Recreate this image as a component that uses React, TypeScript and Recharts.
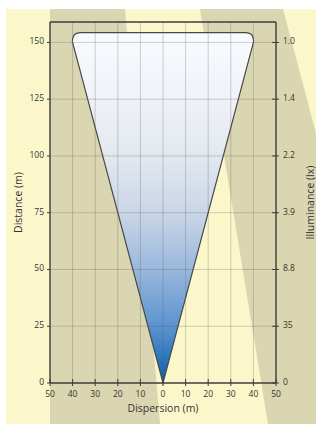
import React from "react";
import { ComposedChart, Area, XAxis, YAxis, ReferenceLine, Label } from "recharts";

// beam outline: dispersion (m) vs distance range [low, high]
const beamX = [-40.1, -39.9, -39.3, -38.3, -36.8, 0, 36.8, 38.3, 39.3, 39.9, 40.1];
const beamLow = [150.4, 149.6, 147.4, 143.6, 138.0, 0, 138.0, 143.6, 147.4, 149.6, 150.4];
const beamHigh = [150.4, 152.0, 153.3, 154.0, 154.3, 154.3, 154.3, 154.0, 153.3, 152.0, 150.4];

const dispersionTicks = [-50, -40, -30, -20, -10, 0, 10, 20, 30, 40, 50];
const distanceTicks = [0, 25, 50, 75, 100, 125, 150];
const illuminanceLabels = ["0", "35", "8.8", "3.9", "2.2", "1.4", "1.0"];

const gridX = [-40, -30, -20, -10, 0, 10, 20, 30, 40];
const gridY = [25, 50, 75, 100, 125, 150];

const distanceMax = 159;

const data = beamX.map((x, i) => ({ x, range: [beamLow[i], beamHigh[i]] }));

const FONT = "'Open Sans', 'DejaVu Sans', sans-serif";
const INK = "#333333";
const FRAME = "#3c3c3c";

const LeftTick = (props: any) => {
  const { x, y, payload } = props;
  return (
    <g>
      <line x1={x - 3} y1={y} x2={x} y2={y} stroke={FRAME} strokeWidth={1} />
      <text x={x - 6} y={y + 2} textAnchor="end" fontSize={8.5} fill={INK} fontFamily={FONT}>
        {payload.value}
      </text>
    </g>
  );
};

const RightTick = (props: any) => {
  const { x, y, payload } = props;
  const idx = distanceTicks.indexOf(payload.value);
  return (
    <g>
      <line x1={x - 4} y1={y} x2={x + 3} y2={y} stroke={FRAME} strokeWidth={1} />
      <text x={x + 7} y={y + 2} textAnchor="start" fontSize={8.5} fill={INK} fontFamily={FONT}>
        {illuminanceLabels[idx]}
      </text>
    </g>
  );
};

const BottomTick = (props: any) => {
  const { x, y, payload } = props;
  return (
    <g>
      <line x1={x} y1={y - 4} x2={x} y2={y + 3} stroke={FRAME} strokeWidth={1} />
      <text x={x} y={y + 14} textAnchor="middle" fontSize={8.5} fill={INK} fontFamily={FONT}>
        {Math.abs(payload.value)}
      </text>
    </g>
  );
};

const Background = () => (
  <svg width={316} height={424} style={{ position: "absolute", left: 0, top: 0 }}>
    <rect x={6} y={9} width={310} height={415} fill="#fcf7cb" />
    <polygon points="50,9 125,9 160,424 50,424" fill="#dad6b1" />
    <polygon points="200,9 283,9 316,133 316,424 268,424" fill="#dad6b1" />
  </svg>
);

const App = () => {
  return (
    <div style={{ position: "absolute", left: 0, top: 0, width: 316, height: 424 }}>
      <Background />
      <div style={{ position: "absolute", left: 0, top: 0 }}>
        <ComposedChart width={316} height={424} data={data} margin={{ top: 22, right: 0, bottom: 0, left: 0 }}>
          <defs>
            <linearGradient id="beamFill" x1="0" y1="0" x2="0" y2="1">
              <stop offset="0" stopColor="#f9fbff" />
              <stop offset="0.19" stopColor="#eff2f7" />
              <stop offset="0.35" stopColor="#e3e8f0" />
              <stop offset="0.515" stopColor="#cad6e6" />
              <stop offset="0.68" stopColor="#98b7dc" />
              <stop offset="0.84" stopColor="#5a93cf" />
              <stop offset="1" stopColor="#0860ad" />
            </linearGradient>
          </defs>
          <XAxis
            dataKey="x"
            type="number"
            domain={[-50, 50]}
            ticks={dispersionTicks}
            interval={0}
            height={41}
            tickSize={0}
            tickMargin={0}
            tick={BottomTick}
            axisLine={{ stroke: FRAME, strokeWidth: 1.4 }}
            tickLine={false}
          >
            <Label
              content={(p: any) => {
                const vb = p.viewBox;
                return (
                  <text x={vb.x + vb.width / 2} y={vb.y + 29} textAnchor="middle" fontSize={10.5} fill={INK} fontFamily={FONT}>
                    Dispersion (m)
                  </text>
                );
              }}
            />
          </XAxis>
          <YAxis
            yAxisId="left"
            type="number"
            domain={[0, distanceMax]}
            ticks={distanceTicks}
            interval={0}
            width={50}
            tickSize={0}
            tickMargin={0}
            tick={LeftTick}
            axisLine={{ stroke: FRAME, strokeWidth: 1.4 }}
            tickLine={false}
          >
            <Label
              content={(p: any) => {
                const vb = p.viewBox;
                const cx = 18;
                const cy = vb.y + vb.height / 2;
                return (
                  <text x={cx} y={cy} transform={`rotate(-90 ${cx} ${cy})`} textAnchor="middle" dominantBaseline="central" fontSize={10.5} fill={INK} fontFamily={FONT}>
                    Distance  (m)
                  </text>
                );
              }}
            />
          </YAxis>
          <YAxis
            yAxisId="right"
            orientation="right"
            type="number"
            domain={[0, distanceMax]}
            ticks={distanceTicks}
            interval={0}
            width={40}
            tickSize={0}
            tickMargin={0}
            tick={RightTick}
            axisLine={{ stroke: FRAME, strokeWidth: 1.4 }}
            tickLine={false}
          >
            <Label
              content={(p: any) => {
                const vb = p.viewBox;
                const cx = 310;
                const cy = vb.y + vb.height / 2;
                return (
                  <text x={cx} y={cy} transform={`rotate(-90 ${cx} ${cy})`} textAnchor="middle" dominantBaseline="central" fontSize={10.5} fill={INK} fontFamily={FONT}>
                    Illuminance (lx)
                  </text>
                );
              }}
            />
          </YAxis>
          {/* invisible copy so the illuminance axis has a series to scale */}
          <Area
            yAxisId="right"
            type="linear"
            dataKey="range"
            fill="none"
            stroke="none"
            isAnimationActive={false}
            dot={false}
            activeDot={false}
          />
          <Area
            yAxisId="left"
            type="linear"
            dataKey="range"
            fill="url(#beamFill)"
            fillOpacity={1}
            stroke="#474747"
            strokeWidth={1.2}
            isAnimationActive={false}
            dot={false}
            activeDot={false}
          />
          {gridX.map((v) => (
            <ReferenceLine key={"gx" + v} yAxisId="left" x={v} stroke="rgba(90,90,90,0.28)" strokeWidth={1} />
          ))}
          {gridY.map((v) => (
            <ReferenceLine key={"gy" + v} yAxisId="left" y={v} stroke="rgba(90,90,90,0.28)" strokeWidth={1} />
          ))}
          <ReferenceLine yAxisId="left" y={distanceMax} stroke={FRAME} strokeWidth={1.4} />
        </ComposedChart>
      </div>
    </div>
  );
};

export default App;
